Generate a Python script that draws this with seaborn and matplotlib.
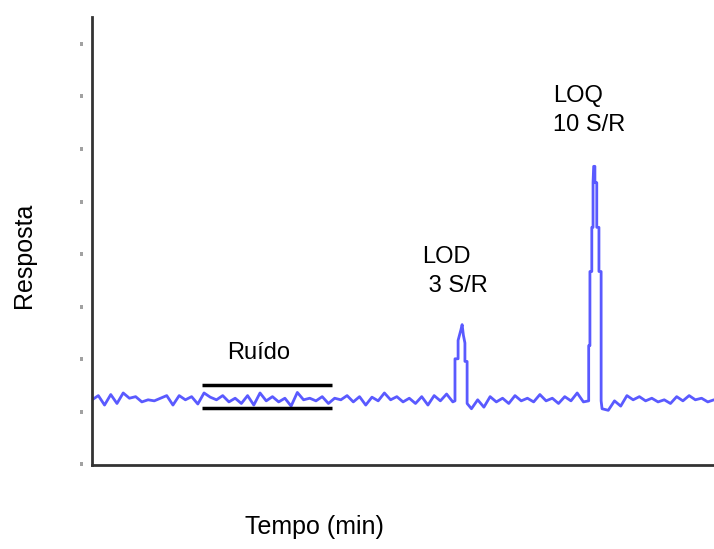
import numpy as np
import pandas as pd
import matplotlib
matplotlib.use('Agg')
import matplotlib.pyplot as plt
import seaborn as sns

# ============================================================
# Data
# ============================================================
# baseline noise before the LOD peak (x = 0 .. 58)
x_pre = list(range(0, 59))
y_pre = [1.22, 1.30, 1.12, 1.32, 1.15, 1.35, 1.25, 1.28, 1.18, 1.22,
         1.20, 1.25, 1.30, 1.12, 1.30, 1.22, 1.28, 1.14, 1.35, 1.27,
         1.22, 1.30, 1.18, 1.25, 1.15, 1.30, 1.12, 1.35, 1.20, 1.28,
         1.18, 1.25, 1.10, 1.36, 1.22, 1.25, 1.20, 1.28, 1.15, 1.25,
         1.22, 1.30, 1.18, 1.28, 1.12, 1.27, 1.20, 1.35, 1.22, 1.28,
         1.18, 1.25, 1.15, 1.28, 1.12, 1.30, 1.20, 1.33, 1.18]

# LOD peak (stepped shape)
x_lod = [58.35, 58.35, 58.85, 58.85, 59.3, 59.5, 59.7, 59.95, 59.95, 60.3, 60.3]
y_lod = [1.20, 2.00, 2.00, 2.35, 2.55, 2.65, 2.45, 2.30, 1.95, 1.95, 1.15]

# noise between peaks
x_mid = list(range(61, 80))
y_mid = [1.05, 1.22, 1.08, 1.28, 1.18, 1.25, 1.15, 1.30, 1.20, 1.25,
         1.18, 1.32, 1.20, 1.25, 1.15, 1.28, 1.20, 1.35, 1.18]

# LOQ peak (stepped shape)
x_loq = [79.85, 79.85, 80.05, 80.05, 80.35, 80.35, 80.55, 80.55, 80.65, 80.85,
         80.85, 81.15, 81.15, 81.5, 81.5, 81.85, 81.85]
y_loq = [1.20, 2.25, 2.25, 3.66, 3.66, 4.50, 4.50, 5.35, 5.66, 5.66,
         5.35, 5.35, 4.50, 4.50, 3.66, 3.66, 1.20]

# noise after LOQ peak
x_post = list(range(82, 101))
y_post = [1.05, 1.02, 1.20, 1.10, 1.30, 1.22, 1.28, 1.20, 1.25, 1.18,
          1.22, 1.15, 1.28, 1.20, 1.30, 1.22, 1.25, 1.18, 1.22]

# noise band lines
noise_x = [17.7, 38.6]
noise_y = [1.50, 1.07]

ytick_pos = [0, 1, 2, 3, 4, 5, 6, 7, 8]

labels = ['Ruído', 'LOD\n 3 S/R', 'LOQ\n10 S/R']
label_x = [26.7, 53.0, 74.1]
label_y = [2.11, 3.66, 6.72]

df = pd.DataFrame({
    'tempo': x_pre + x_lod + x_mid + x_loq + x_post,
    'resposta': y_pre + y_lod + y_mid + y_loq + y_post,
})

# ============================================================
# Figure
# ============================================================
sns.set_style('white')
plt.rcParams['font.family'] = ['Liberation Sans', 'DejaVu Sans']
plt.rcParams['text.color'] = 'black'
plt.rcParams['axes.labelcolor'] = 'black'

fig = plt.figure(figsize=(7.14, 5.49), dpi=100)
ax = fig.add_axes([0.129, 0.153, 0.871, 0.816])

sns.lineplot(data=df, x='tempo', y='resposta', estimator=None, sort=False,
             color='#5a5aff', linewidth=2.0, ax=ax)

for yv in noise_y:
    ax.hlines(yv, noise_x[0], noise_x[1], color='black', linewidth=2.5, zorder=3)

ax.text(label_x[0], label_y[0], labels[0], fontsize=17, ha='center', va='center')
for i in (1, 2):
    ax.text(label_x[i], label_y[i], labels[i], fontsize=17, ha='left',
            va='center', linespacing=1.45)

ax.set_xlim(0, 100)
ax.set_ylim(-0.02, 8.5)
ax.set_xticks([])
ax.set_yticks(ytick_pos)
ax.set_yticklabels(['ıı'] * len(ytick_pos), fontsize=5, color='#444444',
                   fontweight='bold')
ax.tick_params(axis='y', length=0, pad=6)

for side in ['top', 'right']:
    ax.spines[side].set_visible(False)
for side in ['left', 'bottom']:
    ax.spines[side].set_color('#333333')
    ax.spines[side].set_linewidth(2)

ax.set_xlabel('Tempo (min)', fontsize=18)
ax.set_ylabel('Resposta', fontsize=18)
ax.xaxis.set_label_coords(0.358, -0.112)
ax.yaxis.set_label_coords(-0.09, 0.468)

fig.savefig('out.png', dpi=100)
plt.close(fig)
